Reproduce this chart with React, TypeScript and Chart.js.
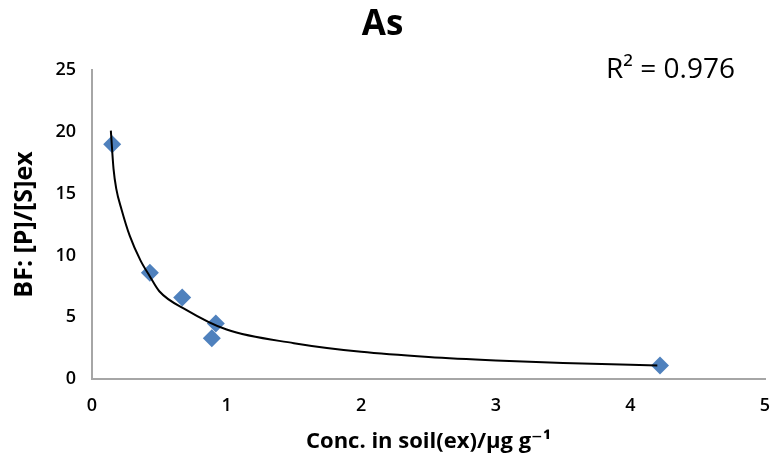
import React, { useEffect, useRef } from "react";
import { Chart, registerables } from "chart.js";

Chart.register(...registerables);

// Measured points
const concX = [0.15, 0.43, 0.67, 0.92, 0.89, 4.22];
const bfY = [19.0, 8.6, 6.6, 4.5, 3.3, 1.1];

// Trend line (power fit)
const trendX = [0.14, 0.16, 0.18, 0.22, 0.28, 0.36, 0.43, 0.5, 0.7, 1, 1.5, 2, 2.5, 3, 3.5, 4, 4.2];
const trendY = [20.1, 17.0, 15.4, 13.7, 11.6, 9.6, 8.3, 7.1, 5.6, 4.0, 2.9, 2.2, 1.78, 1.5, 1.3, 1.15, 1.1];

const titleText = "As";
const xTitle = "Conc. in soil(ex)/\u00b5g g\u207b\u00b9";
const yTitle = "BF: [P]/[S]ex";
const r2Text = "R\u00b2 = 0.976";

const FONT = "'Open Sans', 'DejaVu Sans', sans-serif";

const r2Plugin = {
  id: "r2label",
  afterDraw(chart: any) {
    const { ctx, chartArea } = chart;
    ctx.save();
    ctx.font = `28px ${FONT}`;
    ctx.fillStyle = "#000";
    ctx.textAlign = "left";
    ctx.textBaseline = "alphabetic";
    ctx.fillText(r2Text, chartArea.right - 159, chartArea.top + 8);
    ctx.restore();
  },
};

export default function App() {
  const ref = useRef<HTMLCanvasElement>(null);
  useEffect(() => {
    document.body.style.margin = "0";
    const chart = new Chart(ref.current!, {
      type: "scatter",
      data: {
        datasets: [
          {
            label: "trend",
            data: trendX.map((x, i) => ({ x, y: trendY[i] })),
            showLine: true,
            borderColor: "#000",
            borderWidth: 2,
            pointRadius: 0,
            cubicInterpolationMode: "monotone",
            order: 0,
          } as any,
          {
            label: "BF",
            data: concX.map((x, i) => ({ x, y: bfY[i] })),
            pointStyle: "rectRot",
            pointRadius: 9,
            backgroundColor: "#4f81bd",
            borderColor: "#4f81bd",
            borderWidth: 0,
            order: 1,
          },
        ],
      },
      options: {
        responsive: false,
        animation: false,
        layout: { padding: { left: 0, right: 16, top: 0, bottom: 0 } },
        plugins: {
          legend: { display: false },
          tooltip: { enabled: false },
          title: {
            display: true,
            text: titleText,
            color: "#000",
            font: { family: FONT, size: 35, weight: "bold" },
            padding: { top: 4, bottom: 24 },
          },
        },
        scales: {
          x: {
            type: "linear",
            min: 0,
            max: 5,
            ticks: { stepSize: 1, color: "#000", font: { family: FONT, size: 18, weight: "600" }, padding: 8 },
            grid: { display: false },
            border: { display: true, color: "#a6a6a6", width: 2 },
            title: {
              display: true,
              text: xTitle,
              color: "#000",
              font: { family: FONT, size: 22, weight: "bold" },
              padding: { top: 1, bottom: 0 },
            },
            afterFit(scale: any) {
              scale.height = 76;
            },
          },
          y: {
            type: "linear",
            min: 0,
            max: 25,
            ticks: { stepSize: 5, color: "#000", font: { family: FONT, size: 18, weight: "600" }, padding: 8 },
            grid: { display: false },
            border: { display: true, color: "#a6a6a6", width: 2 },
            title: {
              display: true,
              text: yTitle,
              color: "#000",
              font: { family: FONT, size: 25, weight: "bold" },
              padding: { top: 10, bottom: 4 },
            },
            afterFit(scale: any) {
              scale.width = 92;
            },
          },
        },
      },
      plugins: [r2Plugin],
    });
    return () => chart.destroy();
  }, []);
  return (
    <div style={{ width: 781, height: 455 }}>
      <canvas ref={ref} width={781} height={455} />
    </div>
  );
}
